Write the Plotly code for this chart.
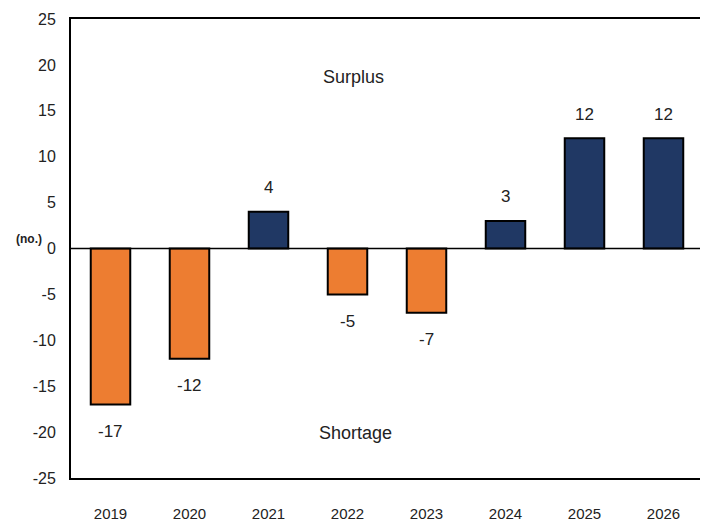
import plotly.graph_objects as go

years = ["2019", "2020", "2021", "2022", "2023", "2024", "2025", "2026"]
values = [-17, -12, 4, -5, -7, 3, 12, 12]
y_ticks = [-25, -20, -15, -10, -5, 0, 5, 10, 15, 20, 25]
y_tick_labels = [str(t) for t in y_ticks]

ORANGE = "#ED7D31"
NAVY = "#203864"
colors = [NAVY if v > 0 else ORANGE for v in values]
FONT = "Liberation Sans Narrow, Liberation Sans, sans-serif"
idx = list(range(len(years)))

fig = go.Figure()
fig.add_trace(go.Bar(
    x=idx, y=values, marker=dict(color=colors, line=dict(color="black", width=2)),
    width=0.5, showlegend=False,
))

fig.add_hline(y=0, line=dict(color="black", width=1.5))

for i, v in zip(idx, values):
    fig.add_annotation(x=i, y=v, text=str(v), showarrow=False,
                       yshift=24 if v > 0 else -27,
                       font=dict(family=FONT, size=17, color="#222"))

fig.add_annotation(x=3.07, y=18.7, text="Surplus", showarrow=False,
                   font=dict(family=FONT, size=18, color="#222"))
fig.add_annotation(x=3.1, y=-20.1, text="Shortage", showarrow=False,
                   font=dict(family=FONT, size=18, color="#222"))
fig.add_annotation(xref="paper", x=-0.043, xanchor="right", y=1.0, text="<b>(no.)</b>",
                   showarrow=False, font=dict(family=FONT, size=12, color="#222"))

# page body adds ~8px offset; figure sized so the plot area lands where the reference has it
fig.update_layout(
    width=700, height=514,
    margin=dict(l=63, r=5, t=11, b=44, autoexpand=False),
    plot_bgcolor="white", paper_bgcolor="white",
    font=dict(family=FONT, size=16, color="#222"),
)
fig.update_xaxes(range=[-0.5, 7.5], tickvals=idx, ticktext=years, automargin=False,
                 showline=True, mirror=True, linecolor="black", linewidth=2,
                 showgrid=False, zeroline=False, ticks="", ticklabelstandoff=21,
                 tickfont=dict(family=FONT, size=15, color="#222"))
fig.update_yaxes(range=[-25, 25], tickvals=y_ticks, ticktext=y_tick_labels, automargin=False,
                 showline=True, mirror=True,
                 linecolor="black", linewidth=2, showgrid=False, zeroline=False,
                 ticks="", ticklabelstandoff=10,
                 tickfont=dict(family=FONT, size=16, color="#222"))

fig.write_html("out.html")
